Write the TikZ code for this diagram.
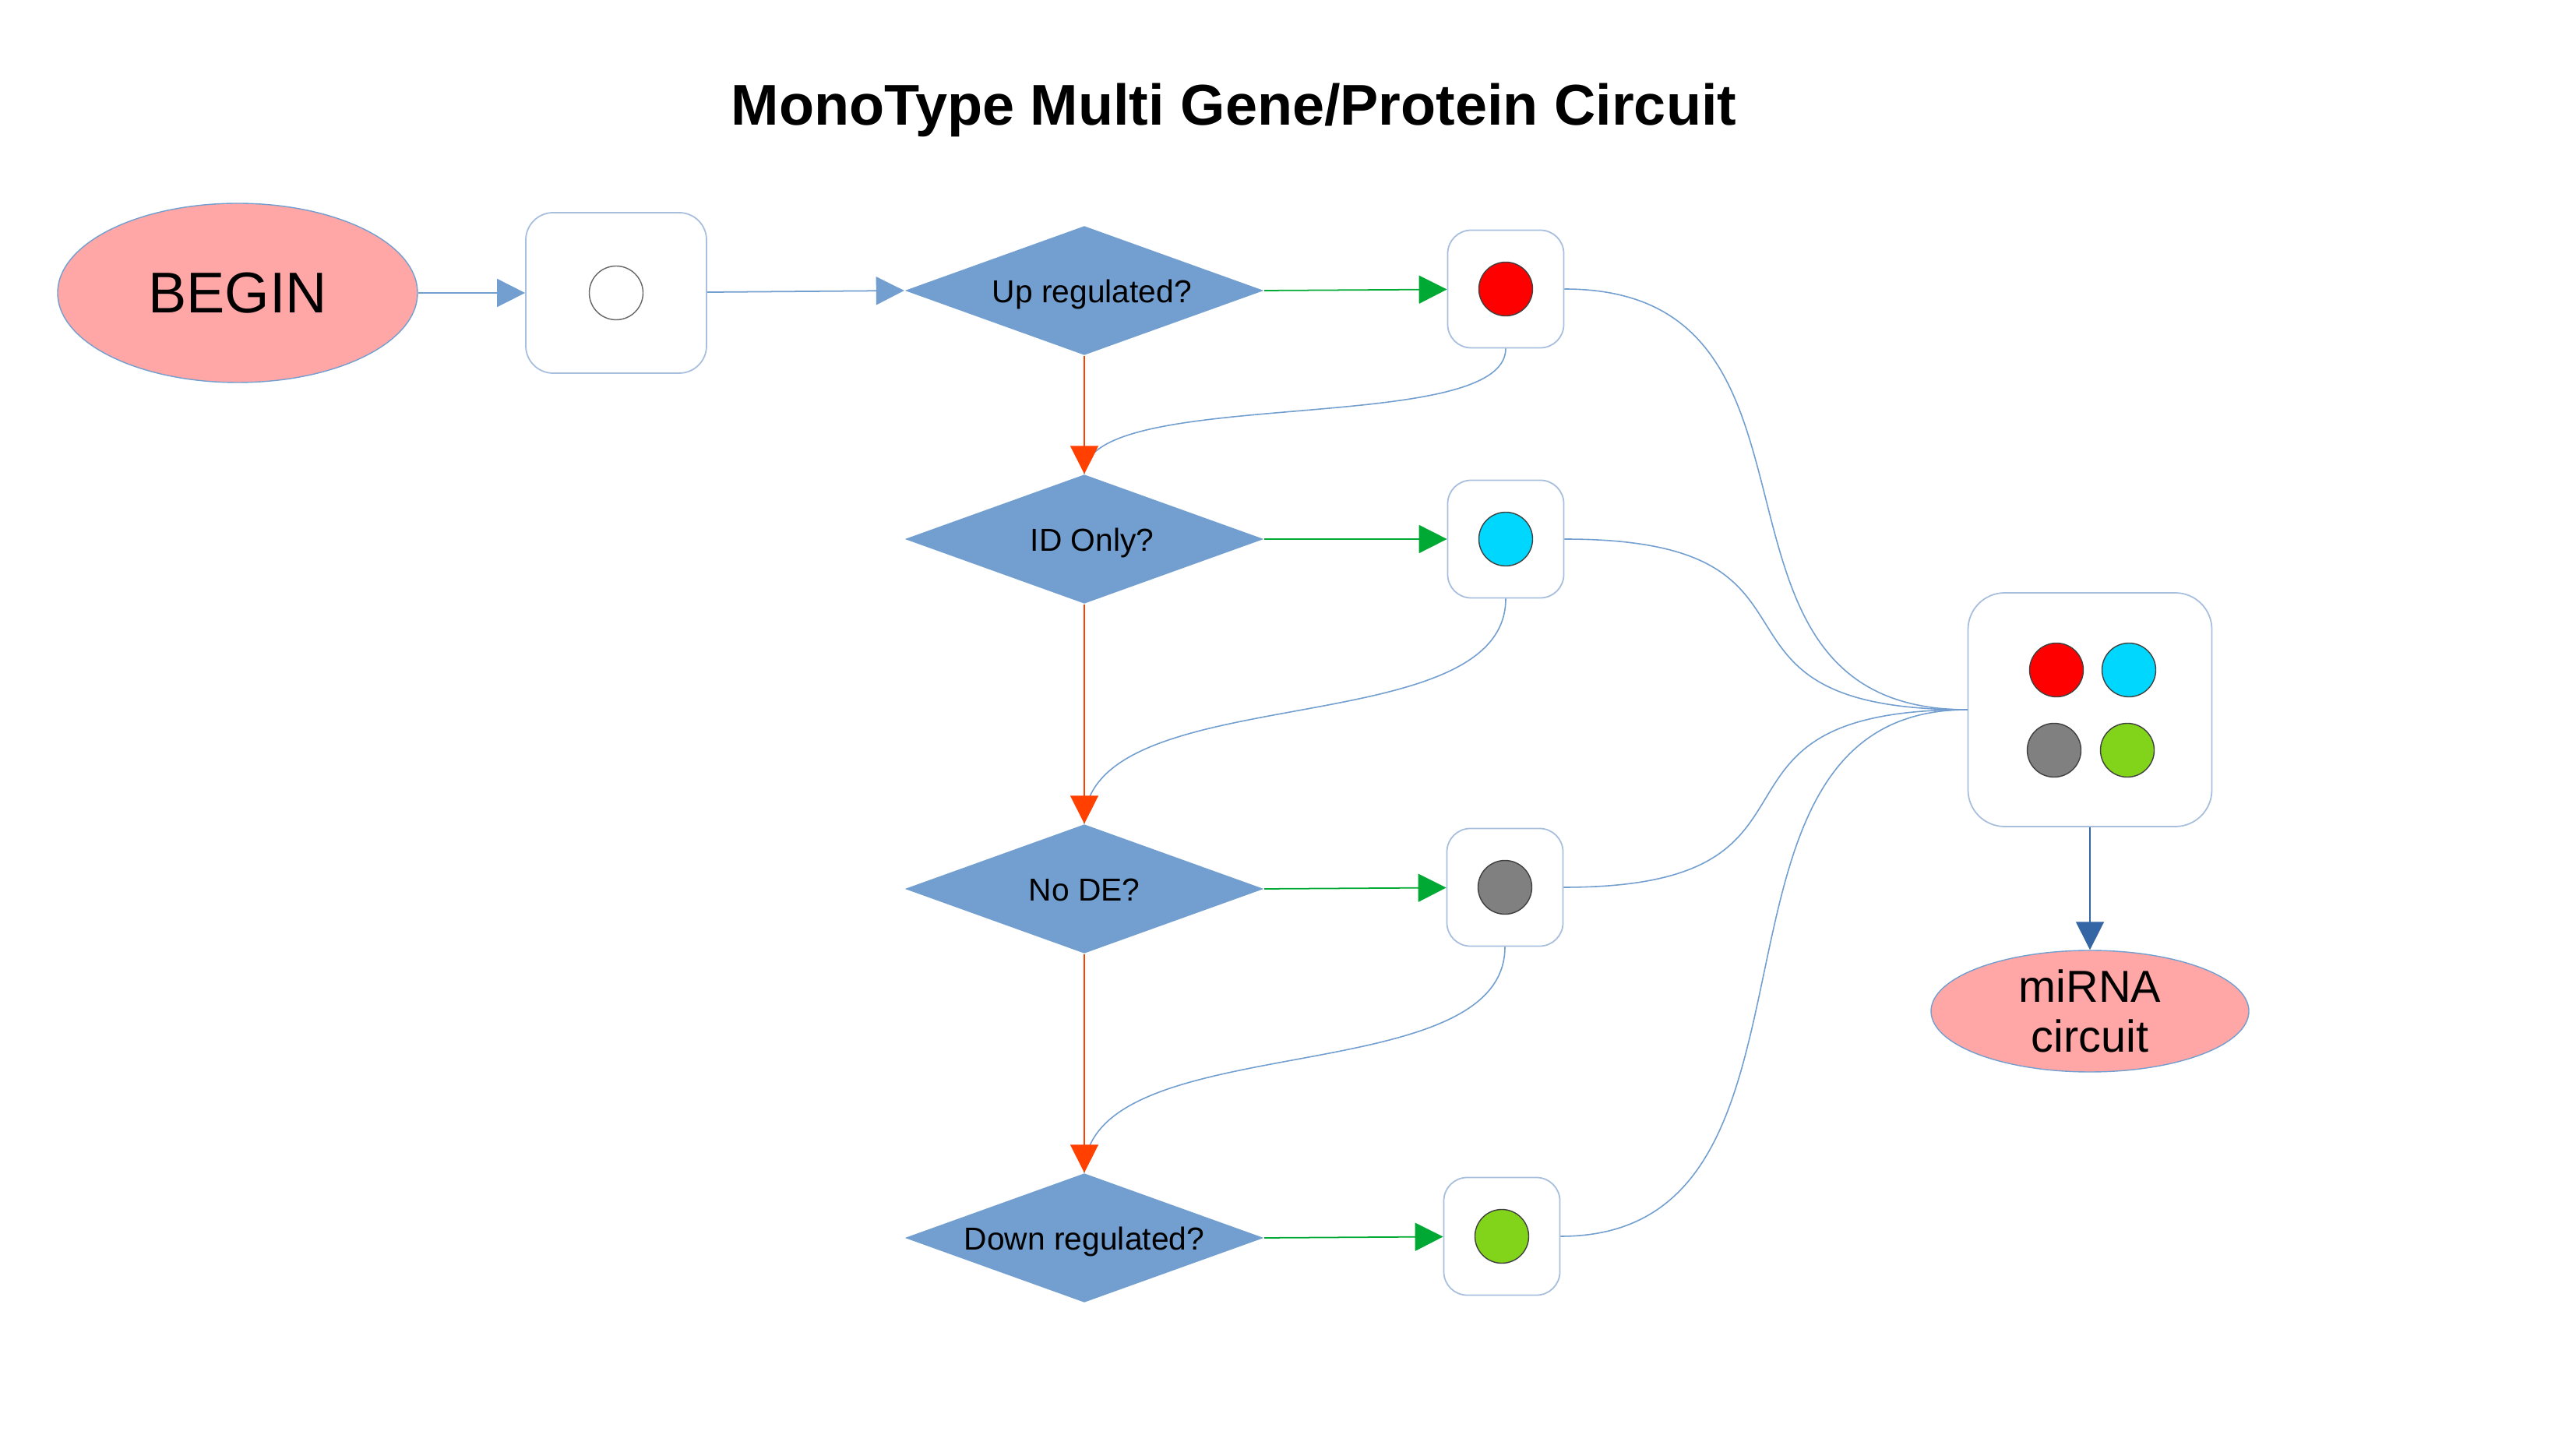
\documentclass[tikz,border=0pt]{standalone}
\usepackage{fontspec}
\setmainfont{Liberation Sans}
\usetikzlibrary{shapes.geometric,arrows.meta}

\definecolor{flowblue}{HTML}{729FCF}
\definecolor{edgeblue}{HTML}{A7BEDD}
\definecolor{darkblue}{HTML}{3465A4}
\definecolor{yesgreen}{HTML}{00A933}
\definecolor{noorange}{HTML}{FF4000}
\definecolor{termpink}{HTML}{FFA6A6}
\definecolor{upred}{HTML}{FF0000}
\definecolor{idcyan}{HTML}{00D7FF}
\definecolor{nogray}{HTML}{808080}
\definecolor{downgreen}{HTML}{81D41A}

\begin{document}
\begin{tikzpicture}[every text node part/.style={align=center},
  term/.style={ellipse, draw=flowblue, fill=termpink, line width=0.4pt, inner sep=0pt},
  decision/.style={diamond, shape aspect=2.78, fill=flowblue, inner sep=0pt,
    text height=0.4cm, text depth=0.085cm,
    minimum width=4.61cm, minimum height=1.66cm, font=\fontsize{11.6}{14}\selectfont},
  slot/.style={rectangle, draw=edgeblue, fill=white, line width=0.5pt,
    rounded corners=0.3cm, minimum width=1.49cm, minimum height=1.51cm},
  dot/.style={circle, draw=black!75, line width=0.4pt, minimum size=0.69cm, inner sep=0pt},
  tip/.style={-{Triangle[length=0.36cm,width=0.36cm]}},
  flow/.style={tip, draw=flowblue, line width=0.5pt},
  yes/.style={tip, draw=yesgreen, line width=0.5pt},
  no/.style={tip, draw=noorange, line width=0.5pt},
  link/.style={draw=flowblue, line width=0.45pt}]
  \fill[white] (0,0) rectangle (33.07,-18.60);
  \node (title) [anchor=base, font=\bfseries\fontsize{21}{25}\selectfont] at (15.84,-1.61)
    {MonoType Multi Gene/Protein Circuit};
  \node (begin) [term, minimum width=4.62cm, minimum height=2.30cm,
    font=\fontsize{21}{25}\selectfont] at (3.05,-3.76) {BEGIN};
  \node (start) [slot, rounded corners=0.35cm, minimum width=2.32cm,
    minimum height=2.06cm] at (7.91,-3.76) {};
  \node (empty) [dot, draw=black!60, fill=white] at (start) {};
  \node (up) [decision] at (13.92,-3.73) {\hspace{0.2cm}Up regulated?};
  \node (id) [decision] at (13.92,-6.92) {\hspace{0.2cm}ID Only?};
  \node (nde) [decision] at (13.92,-11.41) {No DE?};
  \node (down) [decision] at (13.92,-15.89) {Down regulated?};
  \node (bup) [slot] at (19.33,-3.71) {};
  \node (bid) [slot] at (19.33,-6.92) {};
  \node (bnde) [slot] at (19.32,-11.39) {};
  \node (bdown) [slot] at (19.28,-15.87) {};
  \node (rup) [dot, fill=upred] at (bup) {};
  \node (rid) [dot, fill=idcyan] at (bid) {};
  \node (rnde) [dot, fill=nogray] at (bnde) {};
  \node (rdown) [dot, fill=downgreen] at (bdown) {};
  \node (mix) [slot, rounded corners=0.47cm, minimum width=3.13cm,
    minimum height=3.00cm] at (26.83,-9.11) {};
  \node (mup) [dot, fill=upred] at (26.40,-8.60) {};
  \node (mid) [dot, fill=idcyan] at (27.33,-8.60) {};
  \node (mnde) [dot, fill=nogray] at (26.37,-9.63) {};
  \node (mdown) [dot, fill=downgreen] at (27.31,-9.63) {};
  \node (mirna) [term, minimum width=4.08cm, minimum height=1.56cm,
    font=\fontsize{16.4}{18.4}\selectfont] at (26.83,-12.98) {miRNA\\circuit};
\draw[flow] (begin) -- (start);
\draw[flow] (start) -- (up.west);
\draw[yes] (up.east) -- (bup);
\draw[yes] (id.east) -- (bid);
\draw[yes] (nde.east) -- (bnde);
\draw[yes] (down.east) -- (bdown);
\draw[link] (bup.south) .. controls +(0,-1.15) and +(0,1.15) .. (id.north);
\draw[link] (bid.south) .. controls +(0,-1.9) and +(0,1.9) .. (nde.north);
\draw[link] (bnde.south) .. controls +(0,-1.9) and +(0,1.9) .. (down.north);
\draw[no] (up.south) -- (id.north);
\draw[no] (id.south) -- (nde.north);
\draw[no] (nde.south) -- (down.north);
\draw[link] (bup.east) .. controls +(3.8,0) and +(-3.8,0) .. (mix.west);
\draw[link] (bid.east) .. controls +(3.8,0) and +(-3.8,0) .. (mix.west);
\draw[link] (bnde.east) .. controls +(3.8,0) and +(-3.8,0) .. (mix.west);
\draw[link] (bdown.east) .. controls +(3.8,0) and +(-3.8,0) .. (mix.west);
\draw[tip, draw=darkblue, line width=0.5pt] (mix) -- (mirna);
\end{tikzpicture}
\end{document}
